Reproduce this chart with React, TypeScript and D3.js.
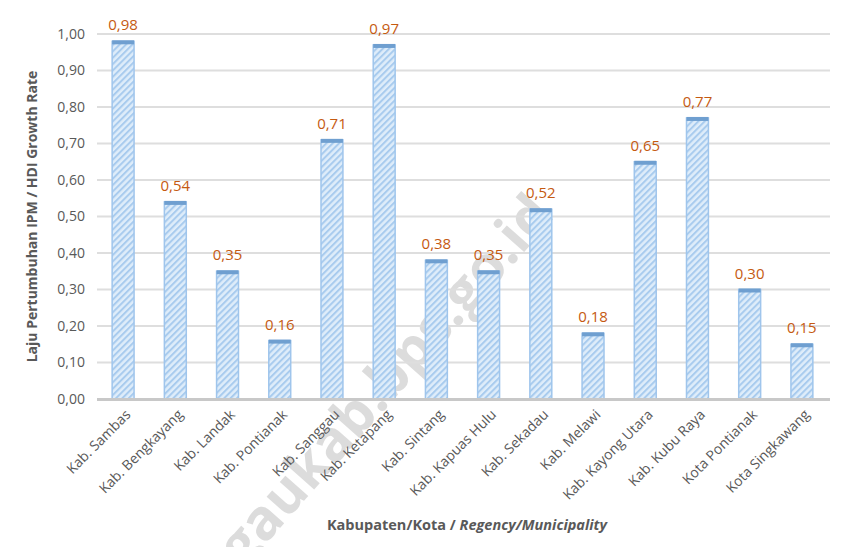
import React, { useEffect, useRef } from 'react';
import * as d3 from 'd3';

const regions = [
  'Kab. Sambas', 'Kab. Bengkayang', 'Kab. Landak', 'Kab. Pontianak', 'Kab. Sanggau',
  'Kab. Ketapang', 'Kab. Sintang', 'Kab. Kapuas Hulu', 'Kab. Sekadau', 'Kab. Melawi',
  'Kab. Kayong Utara', 'Kab. Kubu Raya', 'Kota Pontianak', 'Kota Singkawang',
];
const growth = [0.98, 0.54, 0.35, 0.16, 0.71, 0.97, 0.38, 0.35, 0.52, 0.18, 0.65, 0.77, 0.30, 0.15];
const yTicks = [0, 0.1, 0.2, 0.3, 0.4, 0.5, 0.6, 0.7, 0.8, 0.9, 1.0];

const fmt = (v: number) => v.toFixed(2).replace('.', ',');
const FONT = "'Open Sans', 'Noto Sans', sans-serif";

export default function App() {
  const svgRef = useRef<SVGSVGElement>(null);

  useEffect(() => {
    if (!svgRef.current) return;
    const svg = d3.select(svgRef.current);
    svg.selectAll('*').remove();

    const W = 856, H = 555;
    const margin = { top: 34, right: 28, bottom: 156, left: 97 };
    const width = W - margin.left - margin.right;
    const height = H - margin.top - margin.bottom;

    // hatch pattern for bars
    const defs = svg.append('defs');
    const pat = defs.append('pattern')
      .attr('id', 'hatch')
      .attr('patternUnits', 'userSpaceOnUse')
      .attr('width', 4.5)
      .attr('height', 4.5)
      .attr('patternTransform', 'rotate(45)');
    pat.append('rect').attr('width', 4.5).attr('height', 4.5).attr('fill', '#dfedfa');
    pat.append('rect').attr('width', 2).attr('height', 4.5).attr('fill', '#a8cbee');

    // frame
    svg.append('line').attr('x1', 5).attr('x2', W).attr('y1', 4).attr('y2', 4)
      .attr('stroke', '#d9d9d9').attr('stroke-width', 1.5);
    svg.append('line').attr('x1', 5.5).attr('x2', 5.5).attr('y1', 4).attr('y2', H)
      .attr('stroke', '#d9d9d9').attr('stroke-width', 1.5);

    // watermark (behind the chart)
    svg.append('text')
      .attr('transform', 'translate(556,216) rotate(-48.5)')
      .attr('text-anchor', 'end')
      .attr('font-family', FONT).attr('font-size', 56).attr('font-weight', 'bold')
      .attr('fill', '#9a9a9a').attr('opacity', 0.34)
      .text('sanggaukab.bps.go.id');

    const g = svg.append('g').attr('transform', `translate(${margin.left},${margin.top})`);

    const x = d3.scaleBand().domain(regions).range([0, width]).paddingInner(0.58).paddingOuter(0.29);
    const y = d3.scaleLinear().domain([0, 1]).range([height, 0]);

    // grid
    g.append('g').selectAll('line')
      .data(yTicks.slice(1))
      .enter().append('line')
      .attr('x1', 0).attr('x2', width + 2)
      .attr('y1', d => y(d)).attr('y2', d => y(d))
      .attr('stroke', '#dedede').attr('stroke-width', 2);

    // y labels
    g.append('g').selectAll('text')
      .data(yTicks)
      .enter().append('text')
      .attr('x', -12).attr('y', d => y(d))
      .attr('dy', '0.35em')
      .attr('text-anchor', 'end')
      .attr('font-family', FONT).attr('font-size', 14).attr('fill', '#595959')
      .text(d => fmt(d));

    // bars
    const bars = g.append('g').selectAll('g')
      .data(growth)
      .enter().append('g');
    bars.append('rect')
      .attr('x', (d, i) => x(regions[i])!)
      .attr('y', d => y(d))
      .attr('width', x.bandwidth())
      .attr('height', d => height - y(d))
      .attr('fill', 'url(#hatch)')
      .attr('stroke', '#9fc5ec').attr('stroke-width', 1.5);
    bars.append('rect')
      .attr('x', (d, i) => x(regions[i])!)
      .attr('y', d => y(d) - 1)
      .attr('width', x.bandwidth())
      .attr('height', 4)
      .attr('fill', '#6f9fd0');
    bars.append('text')
      .attr('x', (d, i) => x(regions[i])! + x.bandwidth() / 2)
      .attr('y', d => y(d) - 11)
      .attr('text-anchor', 'middle')
      .attr('font-family', FONT).attr('font-size', 15).attr('fill', '#c55a11')
      .text(d => fmt(d));

    // baseline
    g.append('line').attr('x1', 0).attr('x2', width + 2)
      .attr('y1', height + 0.5).attr('y2', height + 0.5)
      .attr('stroke', '#c8c8c8').attr('stroke-width', 3);

    // x labels
    g.append('g').selectAll('text')
      .data(regions)
      .enter().append('text')
      .attr('transform', d => `translate(${x(d)! + x.bandwidth() / 2 + 5},${height + 13}) rotate(-45)`)
      .attr('text-anchor', 'end')
      .attr('dy', '0.35em')
      .attr('font-family', FONT).attr('font-size', 14).attr('fill', '#595959')
      .text(d => d);

    // axis titles
    svg.append('text')
      .attr('transform', `translate(37,${margin.top + height / 2}) rotate(-90)`)
      .attr('text-anchor', 'middle')
      .attr('font-family', FONT).attr('font-size', 14).attr('font-weight', 'bold').attr('fill', '#595959')
      .text('Laju Pertumbuhan IPM / HDI Growth Rate');

    const xt = svg.append('text')
      .attr('x', 467).attr('y', 530)
      .attr('text-anchor', 'middle')
      .attr('font-family', FONT).attr('font-size', 14.5).attr('font-weight', 'bold').attr('fill', '#595959');
    xt.append('tspan').text('Kabupaten/Kota /  ');
    xt.append('tspan').attr('font-style', 'italic').text('Regency/Municipality');
  }, []);

  return (
    <div style={{ margin: -8 }}>
      <svg ref={svgRef} width={856} height={555} style={{ display: 'block', background: '#fff' }} />
    </div>
  );
}
